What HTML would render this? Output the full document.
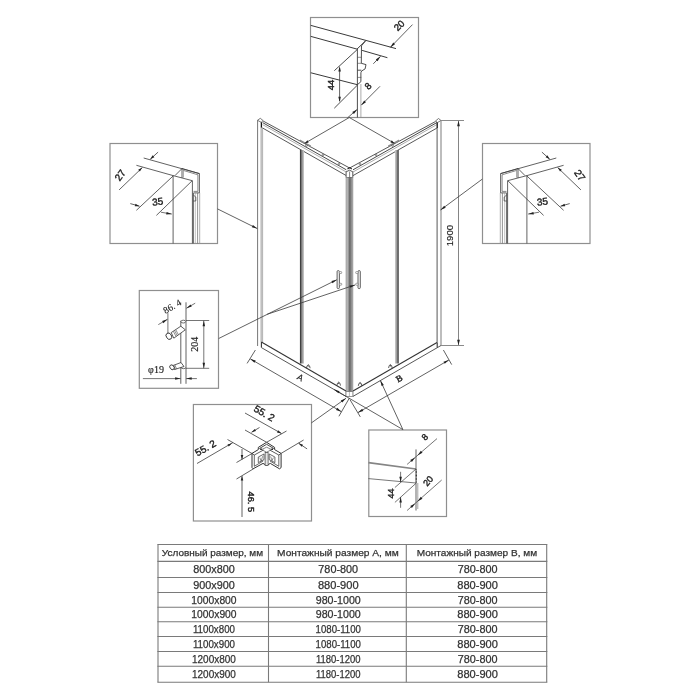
<!DOCTYPE html>
<html><head><meta charset="utf-8"><style>
html,body{margin:0;padding:0;background:#fff;width:700px;height:700px;overflow:hidden}
svg{display:block;will-change:transform}
</style></head><body>
<svg width="700" height="700" viewBox="0 0 700 700">
<defs>
<linearGradient id="gl" x1="0" x2="1" y1="0" y2="0"><stop offset="0" stop-color="#c9c9c9"/><stop offset="1" stop-color="#b4b4b4"/></linearGradient>
<linearGradient id="gc" x1="0" x2="1" y1="0" y2="0"><stop offset="0" stop-color="#cfcfcf"/><stop offset="0.3" stop-color="#a8a8a8"/><stop offset="0.5" stop-color="#6e6e6e"/><stop offset="0.7" stop-color="#7a7a7a"/><stop offset="1" stop-color="#c0c0c0"/></linearGradient>
<linearGradient id="gd" x1="0" x2="1" y1="0" y2="0"><stop offset="0" stop-color="#b0b0b0"/><stop offset="0.15" stop-color="#3c3c3c"/><stop offset="0.4" stop-color="#777"/><stop offset="0.7" stop-color="#a6a6a6"/><stop offset="1" stop-color="#cfcfcf"/></linearGradient>
<linearGradient id="gd2" x1="0" x2="1" y1="0" y2="0"><stop offset="0" stop-color="#cfcfcf"/><stop offset="0.35" stop-color="#a6a6a6"/><stop offset="0.6" stop-color="#777"/><stop offset="0.85" stop-color="#3c3c3c"/><stop offset="1" stop-color="#b0b0b0"/></linearGradient>
<clipPath id="c1"><rect x="310.5" y="17.5" width="108" height="100"/></clipPath></defs>
<rect width="700" height="700" fill="#fff"/>
<rect x="260.3" y="127.5" width="2.8" height="214.5" fill="url(#gl)"/>
<line x1="257.6" y1="120.3" x2="257.6" y2="346" stroke="#777" stroke-width="1.0"/>
<polyline points="257.5,120.3 260.3,118.3 263.1,120.6 261.2,122.3 257.5,120.3" stroke="#555" stroke-width="0.8" fill="none"/>
<line x1="261.4" y1="122.3" x2="261.4" y2="127.6" stroke="#111" stroke-width="1.3"/>
<line x1="263.1" y1="121" x2="349.6" y2="168" stroke="#444" stroke-width="0.9"/>
<line x1="262.6" y1="122.6" x2="346.3" y2="169.8" stroke="#333" stroke-width="0.9"/>
<line x1="262.6" y1="124.6" x2="346.3" y2="172.0" stroke="#777" stroke-width="0.6"/>
<line x1="262.6" y1="128.0" x2="346.3" y2="175.6" stroke="#444" stroke-width="0.9"/>
<line x1="349.6" y1="168" x2="435.5" y2="121.5" stroke="#444" stroke-width="0.9"/>
<line x1="353" y1="169.8" x2="437" y2="122.5" stroke="#333" stroke-width="0.9"/>
<line x1="353" y1="172.0" x2="437" y2="124.5" stroke="#777" stroke-width="0.6"/>
<line x1="353" y1="175.6" x2="437" y2="128" stroke="#444" stroke-width="0.9"/>
<polyline points="435.5,121 438.5,118.5 441,120.5 437.5,122.5 435.5,121" stroke="#555" stroke-width="0.8" fill="none"/>
<line x1="437.1" y1="128" x2="437.1" y2="342.5" stroke="#666" stroke-width="1.1"/>
<line x1="441" y1="120.5" x2="441" y2="345.5" stroke="#9a9a9a" stroke-width="1.3"/>
<line x1="437.2" y1="122.5" x2="437.2" y2="128" stroke="#111" stroke-width="1.3"/>
<polygon points="346.1,171.8 349.6,170.2 352.8,171.8 352.8,177.6 346.1,177.6" stroke="#444" stroke-width="0.9" fill="#fff"/>
<line x1="349.6" y1="171.5" x2="349.6" y2="177.6" stroke="#666" stroke-width="0.8"/>
<polyline points="347.5,168.9 349.7,167.6 351.8,168.9" stroke="#222" stroke-width="1.2" fill="none"/>
<rect x="346" y="177.6" width="6.9" height="214.1" fill="url(#gc)"/>
<line x1="346.1" y1="177.6" x2="346.1" y2="396.4" stroke="#888" stroke-width="0.7"/>
<line x1="352.8" y1="177.6" x2="352.8" y2="396.4" stroke="#888" stroke-width="0.7"/>
<rect x="346" y="391.7" width="6.9" height="4.7" stroke="#555" stroke-width="0.6" fill="#fff"/>
<line x1="349.4" y1="391.7" x2="349.4" y2="396.4" stroke="#777" stroke-width="0.5"/>
<rect x="299.8" y="150" width="4.2" height="213.5" fill="url(#gd)"/>
<rect x="395" y="150" width="3.9" height="213.5" fill="url(#gd2)"/>
<polygon points="300,139.5 311,145.6 311,147.6 300,141.5" stroke="none" stroke-width="0" fill="#8a8a8a"/>
<polygon points="399,139.5 388,145.6 388,147.6 399,141.5" stroke="none" stroke-width="0" fill="#8a8a8a"/>
<circle cx="306.5" cy="145.5" r="0.9" fill="none" stroke="#555" stroke-width="0.6"/>
<circle cx="323" cy="155" r="0.9" fill="none" stroke="#555" stroke-width="0.6"/>
<circle cx="339" cy="164" r="0.9" fill="none" stroke="#555" stroke-width="0.6"/>
<circle cx="360" cy="164" r="0.9" fill="none" stroke="#555" stroke-width="0.6"/>
<circle cx="376" cy="155" r="0.9" fill="none" stroke="#555" stroke-width="0.6"/>
<circle cx="392.5" cy="145.5" r="0.9" fill="none" stroke="#555" stroke-width="0.6"/>
<line x1="261.4" y1="342" x2="346" y2="390.9" stroke="#333" stroke-width="1.1"/>
<line x1="261.4" y1="342" x2="261.4" y2="347.6" stroke="#333" stroke-width="1.1"/>
<line x1="261.4" y1="347.6" x2="346" y2="396.4" stroke="#444" stroke-width="0.9"/>
<line x1="353" y1="390.9" x2="437" y2="342.5" stroke="#333" stroke-width="1.1"/>
<line x1="437.2" y1="342.5" x2="437.2" y2="347.5" stroke="#333" stroke-width="1.1"/>
<line x1="353" y1="396.4" x2="441" y2="345.5" stroke="#444" stroke-width="0.9"/>
<path d="M306.5,368.2 L307.1,365.8 Q308.3,363.59999999999997 309.5,365.8 L310.1,368.2" fill="none" stroke="#333" stroke-width="0.8"/>
<circle cx="308.3" cy="365.9" r="0.7" fill="#444"/>
<path d="M336.9,385.6 L337.5,383.20000000000005 Q338.7,381.0 339.9,383.20000000000005 L340.5,385.6" fill="none" stroke="#333" stroke-width="0.8"/>
<circle cx="338.7" cy="383.3" r="0.7" fill="#444"/>
<path d="M358.3,385.9 L358.90000000000003,383.5 Q360.1,381.29999999999995 361.3,383.5 L361.90000000000003,385.9" fill="none" stroke="#333" stroke-width="0.8"/>
<circle cx="360.1" cy="383.59999999999997" r="0.7" fill="#444"/>
<path d="M388.59999999999997,368 L389.2,365.6 Q390.4,363.4 391.59999999999997,365.6 L392.2,368" fill="none" stroke="#333" stroke-width="0.8"/>
<circle cx="390.4" cy="365.7" r="0.7" fill="#444"/>
<rect x="337.1" y="270.6" width="2.3" height="18" rx="1" fill="#f2f2f2" stroke="#444" stroke-width="0.85"/>
<rect x="339.3" y="271.6" width="2.4" height="1.9" rx="0.6" fill="#fff" stroke="#666" stroke-width="0.6"/>
<rect x="339.3" y="283.3" width="2.4" height="1.9" rx="0.6" fill="#fff" stroke="#666" stroke-width="0.6"/>
<rect x="358.0" y="270.6" width="2.3" height="18" rx="1" fill="#f2f2f2" stroke="#444" stroke-width="0.85"/>
<rect x="355.7" y="271.6" width="2.4" height="1.9" rx="0.6" fill="#fff" stroke="#666" stroke-width="0.6"/>
<rect x="355.7" y="283.3" width="2.4" height="1.9" rx="0.6" fill="#fff" stroke="#666" stroke-width="0.6"/>
<line x1="441" y1="120.5" x2="464" y2="120.5" stroke="#8a8a8a" stroke-width="1.0"/>
<line x1="441" y1="345.5" x2="464" y2="345.5" stroke="#8a8a8a" stroke-width="1.0"/>
<line x1="458.5" y1="121" x2="458.5" y2="345" stroke="#777" stroke-width="0.9"/>
<polygon points="458.5,120.7 459.90,126.20 457.10,126.20" fill="#222"/>
<polygon points="458.5,345.3 457.10,339.80 459.90,339.80" fill="#222"/>
<text x="449.7" y="235.6" font-family="Liberation Sans" font-size="9.6" fill="#222" stroke="#222" stroke-width="0.15" text-anchor="middle" dominant-baseline="central" transform="rotate(-90 449.7 235.6)" >1900</text>
<line x1="255.4" y1="350" x2="247.1" y2="363.4" stroke="#3a3a3a" stroke-width="0.8"/>
<line x1="349.4" y1="398" x2="338.9" y2="416.3" stroke="#3a3a3a" stroke-width="0.8"/>
<line x1="250.3" y1="358.9" x2="341.4" y2="411.7" stroke="#3a3a3a" stroke-width="0.8"/>
<polygon points="250.3,358.9 255.69,360.57 254.43,362.74" fill="#222"/>
<polygon points="341.4,411.7 336.01,410.03 337.27,407.86" fill="#222"/>
<text x="300.3" y="377.6" font-family="Liberation Sans" font-size="8.8" fill="#222" stroke="#222" stroke-width="0.15" text-anchor="middle" dominant-baseline="central" transform="rotate(29 300.3 377.6)" >A</text>
<line x1="443.4" y1="350" x2="451.7" y2="364.6" stroke="#3a3a3a" stroke-width="0.8"/>
<line x1="350" y1="399.7" x2="360.3" y2="416.9" stroke="#3a3a3a" stroke-width="0.8"/>
<line x1="448.9" y1="360" x2="358" y2="412.6" stroke="#3a3a3a" stroke-width="0.8"/>
<polygon points="448.9,360 444.77,363.84 443.51,361.67" fill="#222"/>
<polygon points="358,412.6 362.13,408.76 363.39,410.93" fill="#222"/>
<text x="399.2" y="378.4" font-family="Liberation Serif" font-size="9" fill="#222" stroke="#222" stroke-width="0.45" text-anchor="middle" dominant-baseline="central" transform="rotate(-29 399.2 378.4)" >B</text>
<rect x="310.5" y="17.5" width="108" height="100" stroke="#8f8f8f" stroke-width="1.2" fill="none"/>
<g clip-path="url(#c1)">
<line x1="310.5" y1="25.3" x2="396" y2="48.6" stroke="#3a3a3a" stroke-width="1.0"/>
<line x1="310.5" y1="36.3" x2="357" y2="49.1" stroke="#3a3a3a" stroke-width="1.0"/>
<line x1="362.1" y1="50.4" x2="387.4" y2="57.7" stroke="#3a3a3a" stroke-width="1.0"/>
<line x1="310.5" y1="72.7" x2="357.4" y2="84.7" stroke="#3a3a3a" stroke-width="1.0"/>
<line x1="365.6" y1="40.8" x2="357" y2="49.1" stroke="#3a3a3a" stroke-width="1.0"/>
<polyline points="365.6,40.8 361.5,45.8 361.3,63.3 366,64.6 365.1,68.9 361.6,71 360.9,72.7 360.9,81.7 357.4,84.7" stroke="#3a3a3a" stroke-width="0.9" fill="none"/>
<line x1="361.3" y1="70.2" x2="357.4" y2="70.2" stroke="#3a3a3a" stroke-width="0.9"/>
<line x1="357.4" y1="49.1" x2="357.4" y2="118" stroke="#3a3a3a" stroke-width="0.9"/>
<line x1="360.9" y1="84" x2="360.9" y2="118" stroke="#888" stroke-width="0.7"/>
<line x1="357.5" y1="57.3" x2="361.3" y2="57.3" stroke="#444" stroke-width="0.6"/>
<line x1="357.5" y1="63.3" x2="361.3" y2="63.3" stroke="#444" stroke-width="0.6"/>
<line x1="357.5" y1="77.4" x2="361.3" y2="77.4" stroke="#444" stroke-width="0.6"/>
<line x1="357.5" y1="49.3" x2="334.3" y2="70.7" stroke="#3a3a3a" stroke-width="0.9"/>
<line x1="357.5" y1="85" x2="334.3" y2="108.2" stroke="#3a3a3a" stroke-width="0.9"/>
<line x1="339.6" y1="68" x2="339.6" y2="101" stroke="#3a3a3a" stroke-width="0.8"/>
<polygon points="339.6,66 340.85,71.50 338.35,71.50" fill="#222"/>
<polygon points="339.6,102.3 338.35,96.80 340.85,96.80" fill="#222"/>
<text x="330" y="85" font-family="Liberation Sans" font-size="9.5" fill="#222" stroke="#222" stroke-width="0.4" text-anchor="middle" dominant-baseline="central" transform="rotate(-90 330 85)" >44</text>
<line x1="412.5" y1="24.6" x2="390.3" y2="47.4" stroke="#3a3a3a" stroke-width="0.8"/>
<polygon points="390.3,47.4 393.24,42.59 395.03,44.33" fill="#222"/>
<line x1="373.3" y1="63.8" x2="380.5" y2="56.3" stroke="#3a3a3a" stroke-width="0.8"/>
<polygon points="380.5,56.3 377.59,61.13 375.79,59.40" fill="#222"/>
<text x="399" y="25.4" font-family="Liberation Sans" font-size="9.5" fill="#222" stroke="#222" stroke-width="0.4" text-anchor="middle" dominant-baseline="central" transform="rotate(-45 399 25.4)" >20</text>
<line x1="380" y1="86.3" x2="361.2" y2="105.2" stroke="#3a3a3a" stroke-width="0.8"/>
<polygon points="361.2,105.2 364.19,100.42 365.96,102.18" fill="#222"/>
<line x1="346.3" y1="118.9" x2="357.2" y2="109.4" stroke="#3a3a3a" stroke-width="0.8"/>
<polygon points="357.2,109.4 353.88,113.96 352.23,112.07" fill="#222"/>
<text x="368" y="86" font-family="Liberation Sans" font-size="9.5" fill="#222" stroke="#222" stroke-width="0.4" text-anchor="middle" dominant-baseline="central" transform="rotate(-45 368 86)" >8</text>
</g>
<line x1="349.3" y1="117.5" x2="304.6" y2="143.4" stroke="#3a3a3a" stroke-width="0.8"/>
<line x1="349.3" y1="117.5" x2="394.6" y2="143.4" stroke="#3a3a3a" stroke-width="0.8"/>
<polygon points="304.6,143.4 307.46,140.36 308.66,142.43" fill="#222"/>
<polygon points="394.6,143.4 390.53,142.46 391.72,140.37" fill="#222"/>
<rect x="110" y="143.5" width="107.5" height="100" stroke="#8f8f8f" stroke-width="1.2" fill="none"/>
<line x1="143.7" y1="158" x2="199.4" y2="173.6" stroke="#3a3a3a" stroke-width="0.8"/>
<line x1="136.4" y1="165.3" x2="173.1" y2="175.6" stroke="#3a3a3a" stroke-width="0.8"/>
<line x1="119.1" y1="189.9" x2="142.3" y2="167.6" stroke="#3a3a3a" stroke-width="0.8"/>
<polygon points="142.3,167.6 139.92,171.62 138.19,169.82" fill="#222"/>
<line x1="158.1" y1="152.1" x2="150.2" y2="159.3" stroke="#3a3a3a" stroke-width="0.8"/>
<polygon points="150.2,159.3 152.68,155.34 154.37,157.19" fill="#222"/>
<line x1="173.1" y1="175.6" x2="173.1" y2="243.4" stroke="#3a3a3a" stroke-width="0.8"/>
<line x1="173.1" y1="175.6" x2="192.4" y2="180.7" stroke="#3a3a3a" stroke-width="0.8"/>
<line x1="192.4" y1="180.7" x2="192.4" y2="243.4" stroke="#3a3a3a" stroke-width="0.8"/>
<polyline points="175,175.6 182,168.5 199.4,173.6 199.4,192.9 193.5,192.9" stroke="#3a3a3a" stroke-width="0.8" fill="none"/>
<line x1="182" y1="168.5" x2="182" y2="178" stroke="#3a3a3a" stroke-width="0.8"/>
<line x1="193.3" y1="192.9" x2="193.3" y2="243.4" stroke="#444" stroke-width="0.9"/>
<line x1="195.3" y1="192.9" x2="195.3" y2="243.4" stroke="#999" stroke-width="0.6"/>
<line x1="197.6" y1="192.9" x2="197.6" y2="243.4" stroke="#666" stroke-width="0.7"/>
<line x1="199.7" y1="192.9" x2="199.7" y2="243.4" stroke="#999" stroke-width="0.8"/>
<polyline points="183.3,170.4 197.9,174.8 197.9,191.4 193.5,191.4" stroke="#555" stroke-width="0.7" fill="none"/>
<line x1="183.4" y1="170.4" x2="183.4" y2="177.6" stroke="#666" stroke-width="0.6"/>
<polyline points="193.3,195 195.8,197 195.8,201 193.3,201" stroke="#3a3a3a" stroke-width="0.7" fill="none"/>
<line x1="136.4" y1="210.3" x2="173.3" y2="175.8" stroke="#3a3a3a" stroke-width="0.8"/>
<line x1="156.4" y1="215.4" x2="192.2" y2="180.7" stroke="#3a3a3a" stroke-width="0.8"/>
<line x1="130.3" y1="203.6" x2="139.5" y2="206.2" stroke="#3a3a3a" stroke-width="0.8"/>
<polygon points="139.5,206.2 134.83,206.18 135.51,203.77" fill="#222"/>
<line x1="160.9" y1="212.2" x2="171.8" y2="214.1" stroke="#3a3a3a" stroke-width="0.7"/>
<polygon points="171.8,214.1 166.17,214.39 166.60,211.92" fill="#222"/>
<rect x="482.5" y="143.5" width="107.5" height="100" stroke="#8f8f8f" stroke-width="1.2" fill="none"/>
<line x1="556.3" y1="158" x2="500.6" y2="173.6" stroke="#3a3a3a" stroke-width="0.8"/>
<line x1="563.6" y1="165.3" x2="526.9" y2="175.6" stroke="#3a3a3a" stroke-width="0.8"/>
<line x1="580.9" y1="189.9" x2="557.7" y2="167.6" stroke="#3a3a3a" stroke-width="0.8"/>
<polygon points="557.7,167.6 561.81,169.82 560.08,171.62" fill="#222"/>
<line x1="541.9" y1="152.1" x2="549.8" y2="159.3" stroke="#3a3a3a" stroke-width="0.8"/>
<polygon points="549.8,159.3 545.63,157.19 547.32,155.34" fill="#222"/>
<line x1="526.9" y1="175.6" x2="526.9" y2="243.4" stroke="#3a3a3a" stroke-width="0.8"/>
<line x1="526.9" y1="175.6" x2="507.6" y2="180.7" stroke="#3a3a3a" stroke-width="0.8"/>
<line x1="507.6" y1="180.7" x2="507.6" y2="243.4" stroke="#3a3a3a" stroke-width="0.8"/>
<polyline points="525,175.6 518,168.5 500.6,173.6 500.6,192.9 506.5,192.9" stroke="#3a3a3a" stroke-width="0.8" fill="none"/>
<line x1="518" y1="168.5" x2="518" y2="178" stroke="#3a3a3a" stroke-width="0.8"/>
<line x1="506.7" y1="192.9" x2="506.7" y2="243.4" stroke="#444" stroke-width="0.9"/>
<line x1="504.7" y1="192.9" x2="504.7" y2="243.4" stroke="#999" stroke-width="0.6"/>
<line x1="502.4" y1="192.9" x2="502.4" y2="243.4" stroke="#666" stroke-width="0.7"/>
<line x1="500.3" y1="192.9" x2="500.3" y2="243.4" stroke="#999" stroke-width="0.8"/>
<polyline points="516.7,170.4 502.1,174.8 502.1,191.4 506.5,191.4" stroke="#555" stroke-width="0.7" fill="none"/>
<line x1="516.6" y1="170.4" x2="516.6" y2="177.6" stroke="#666" stroke-width="0.6"/>
<polyline points="506.7,195 504.2,197 504.2,201 506.7,201" stroke="#3a3a3a" stroke-width="0.7" fill="none"/>
<line x1="563.6" y1="210.3" x2="526.7" y2="175.8" stroke="#3a3a3a" stroke-width="0.8"/>
<line x1="543.6" y1="215.4" x2="507.8" y2="180.7" stroke="#3a3a3a" stroke-width="0.8"/>
<line x1="569.7" y1="203.6" x2="560.5" y2="206.2" stroke="#3a3a3a" stroke-width="0.8"/>
<polygon points="560.5,206.2 564.49,203.77 565.17,206.18" fill="#222"/>
<line x1="539.1" y1="212.2" x2="528.2" y2="214.1" stroke="#3a3a3a" stroke-width="0.7"/>
<polygon points="528.2,214.1 533.40,211.92 533.83,214.39" fill="#222"/>
<text x="120.2" y="175.3" font-family="Liberation Sans" font-size="10" fill="#222" stroke="#222" stroke-width="0.4" text-anchor="middle" dominant-baseline="central" transform="rotate(-55 120.2 175.3)" >27</text>
<text x="579.8" y="175.3" font-family="Liberation Sans" font-size="10" fill="#222" stroke="#222" stroke-width="0.4" text-anchor="middle" dominant-baseline="central" transform="rotate(55 579.8 175.3)" >27</text>
<text x="157.7" y="201.6" font-family="Liberation Sans" font-size="10" fill="#222" stroke="#222" stroke-width="0.4" text-anchor="middle" dominant-baseline="central" transform="rotate(-6 157.7 201.6)" >35</text>
<text x="542.3" y="201.6" font-family="Liberation Sans" font-size="10" fill="#222" stroke="#222" stroke-width="0.4" text-anchor="middle" dominant-baseline="central" transform="rotate(-6 542.3 201.6)" >35</text>
<line x1="217.5" y1="208.9" x2="257.3" y2="228.6" stroke="#3a3a3a" stroke-width="0.8"/>
<polygon points="257.3,228.6 251.82,227.28 252.93,225.04" fill="#222"/>
<line x1="482.3" y1="179.1" x2="440.5" y2="210" stroke="#3a3a3a" stroke-width="0.8"/>
<polygon points="440.5,210 444.18,205.73 445.67,207.74" fill="#222"/>
<rect x="139.3" y="290.5" width="79.2" height="97.8" stroke="#8f8f8f" stroke-width="1.2" fill="none"/>
<line x1="180.8" y1="320.7" x2="180.8" y2="383.8" stroke="#3a3a3a" stroke-width="0.8"/>
<line x1="186" y1="302.3" x2="186" y2="383.8" stroke="#3a3a3a" stroke-width="0.8"/>
<text x="172.3" y="306.6" font-family="Liberation Serif" font-size="9.5" fill="#222" stroke="#222" stroke-width="0.12" text-anchor="middle" dominant-baseline="central" transform="rotate(-30 172.3 306.6)" >86. 4</text>
<line x1="158.3" y1="324.6" x2="167.5" y2="319.3" stroke="#3a3a3a" stroke-width="0.7"/>
<polygon points="167.5,319.3 163.36,323.13 162.11,320.96" fill="#222"/>
<line x1="195.2" y1="303.2" x2="186.4" y2="308.3" stroke="#3a3a3a" stroke-width="0.7"/>
<polygon points="186.4,308.3 190.53,304.46 191.79,306.62" fill="#222"/>
<line x1="167.9" y1="313.2" x2="167.9" y2="333" stroke="#3a3a3a" stroke-width="0.7"/>
<line x1="186" y1="320.5" x2="209.2" y2="320.5" stroke="#3a3a3a" stroke-width="0.7"/>
<line x1="186" y1="368.3" x2="209.2" y2="368.3" stroke="#3a3a3a" stroke-width="0.7"/>
<line x1="203.8" y1="320.7" x2="203.8" y2="368.3" stroke="#3a3a3a" stroke-width="0.7"/>
<polygon points="203.8,320.7 205.05,326.20 202.55,326.20" fill="#222"/>
<polygon points="203.8,368.3 202.55,362.80 205.05,362.80" fill="#222"/>
<text x="194.4" y="344.3" font-family="Liberation Serif" font-size="10" fill="#222" stroke="#222" stroke-width="0.15" text-anchor="middle" dominant-baseline="central" transform="rotate(-90 194.4 344.3)" >204</text>
<text x="156" y="369.3" font-family="Liberation Serif" font-size="10" fill="#222" stroke="#222" stroke-width="0.15" text-anchor="middle" dominant-baseline="central" transform="rotate(0 156 369.3)" >φ19</text>
<line x1="142.9" y1="378.6" x2="180.6" y2="378.6" stroke="#3a3a3a" stroke-width="0.7"/>
<polygon points="180.6,378.6 175.10,379.85 175.10,377.35" fill="#222"/>
<line x1="196.9" y1="378.6" x2="186.2" y2="378.6" stroke="#3a3a3a" stroke-width="0.7"/>
<polygon points="186.2,378.6 191.70,377.35 191.70,379.85" fill="#222"/>
<ellipse cx="183.3" cy="321.6" rx="2.3" ry="1.4" fill="#fff" stroke="#333" stroke-width="0.7"/>
<polygon points="180.8,326.2 171.2,332.6 173.8,338.2 185.3,329.8" stroke="#333" stroke-width="0.8" fill="#fff"/>
<line x1="173.4" y1="331.4" x2="176.0" y2="336.4" stroke="#444" stroke-width="0.6"/>
<line x1="174.6" y1="330.6" x2="177.2" y2="335.6" stroke="#444" stroke-width="0.6"/>
<line x1="175.8" y1="329.8" x2="178.4" y2="334.8" stroke="#444" stroke-width="0.6"/>
<ellipse cx="168.9" cy="336.2" rx="2.6" ry="3.4" transform="rotate(-35 168.9 336.2)" fill="#fff" stroke="#333" stroke-width="0.9"/>
<polygon points="181,362.5 172.3,365.8 174.3,369.6 184,366.5" stroke="#333" stroke-width="0.8" fill="#fff"/>
<line x1="173.6" y1="365.4" x2="175.4" y2="369.4" stroke="#444" stroke-width="0.6"/>
<line x1="174.8" y1="364.9" x2="176.60000000000002" y2="368.9" stroke="#444" stroke-width="0.6"/>
<ellipse cx="172" cy="367.3" rx="2" ry="2.6" transform="rotate(-40 172 367.3)" fill="#fff" stroke="#333" stroke-width="0.9"/>
<path d="M181,367.5 a2.6,1.6 0 0 0 5,0" fill="none" stroke="#333" stroke-width="0.7"/>
<line x1="218.7" y1="338.5" x2="336.9" y2="279.7" stroke="#3a3a3a" stroke-width="0.8"/>
<polygon points="336.9,279.7 332.53,283.27 331.42,281.03" fill="#222"/>
<line x1="267.1" y1="314.3" x2="355.2" y2="284.9" stroke="#3a3a3a" stroke-width="0.8"/>
<polygon points="355.2,284.9 350.38,287.83 349.59,285.46" fill="#222"/>
<rect x="193.4" y="404.5" width="118.1" height="116.5" stroke="#8f8f8f" stroke-width="1.2" fill="none"/>
<text x="264.3" y="413.2" font-family="Liberation Sans" font-size="10" fill="#222" stroke="#222" stroke-width="0.4" text-anchor="middle" dominant-baseline="central" transform="rotate(30 264.3 413.2)" >55. 2</text>
<text x="205.5" y="448" font-family="Liberation Sans" font-size="10" fill="#222" stroke="#222" stroke-width="0.4" text-anchor="middle" dominant-baseline="central" transform="rotate(-30 205.5 448)" >55. 2</text>
<line x1="245" y1="413" x2="281.5" y2="433.5" stroke="#3a3a3a" stroke-width="0.8"/>
<polygon points="281.5,433.5 276.96,432.39 278.19,430.21" fill="#222"/>
<line x1="245" y1="430" x2="266.6" y2="442.3" stroke="#3a3a3a" stroke-width="0.8"/>
<line x1="266.6" y1="442.3" x2="286.5" y2="431" stroke="#3a3a3a" stroke-width="0.8"/>
<line x1="251.5" y1="432.3" x2="259.5" y2="427.5" stroke="#3a3a3a" stroke-width="0.8"/>
<polygon points="251.5,432.3 254.72,428.91 256.00,431.06" fill="#222"/>
<line x1="197" y1="463.5" x2="233" y2="442.5" stroke="#3a3a3a" stroke-width="0.8"/>
<polygon points="232,443.2 228.73,446.54 227.48,444.38" fill="#222"/>
<line x1="227.5" y1="439.5" x2="252" y2="453.5" stroke="#3a3a3a" stroke-width="0.8"/>
<line x1="236.5" y1="462.5" x2="252" y2="453.5" stroke="#3a3a3a" stroke-width="0.8"/>
<line x1="236.5" y1="479" x2="253.5" y2="468.8" stroke="#3a3a3a" stroke-width="0.8"/>
<line x1="281.1" y1="453.4" x2="303.6" y2="440" stroke="#3a3a3a" stroke-width="0.8"/>
<line x1="307.1" y1="448.9" x2="298.6" y2="443.2" stroke="#3a3a3a" stroke-width="0.8"/>
<polygon points="298.6,443.2 303.03,444.67 301.64,446.74" fill="#222"/>
<line x1="242" y1="449" x2="242" y2="459.5" stroke="#3a3a3a" stroke-width="0.8"/>
<polygon points="242,459.5 240.75,455.00 243.25,455.00" fill="#222"/>
<line x1="242" y1="476" x2="242" y2="517" stroke="#3a3a3a" stroke-width="0.8"/>
<polygon points="242,476 243.25,480.50 240.75,480.50" fill="#222"/>
<text x="251" y="501.8" font-family="Liberation Sans" font-size="9.2" fill="#222" stroke="#222" stroke-width="0.4" text-anchor="middle" dominant-baseline="central" transform="rotate(90 251 501.8)" >46. 5</text>
<polygon points="252,453.4 258.3,449.6 258.3,447.4 266.6,442.3 274.6,447.4 274.6,449.6 281.1,453.4 281.1,467.6 279.5,468.8 270.3,463.4 266.6,465.4 263,463.4 253.1,468.8 252,467.6" stroke="#333" stroke-width="1.0" fill="#fff"/>
<polyline points="254.3,455 254.3,466.3 263.2,461" stroke="#444" stroke-width="0.8" fill="none"/>
<polyline points="278.8,455 278.8,466.3 270,461" stroke="#444" stroke-width="0.8" fill="none"/>
<polyline points="252,453.4 254.3,455 263.5,450" stroke="#333" stroke-width="0.8" fill="none"/>
<polyline points="281.1,453.4 278.8,455 269.7,450" stroke="#333" stroke-width="0.8" fill="none"/>
<polyline points="259.3,448.6 266.6,444.3 273.9,448.6" stroke="#333" stroke-width="0.9" fill="none"/>
<polyline points="261.5,449.6 266.6,447.2 271.7,449.6 266.6,452.2 261.5,449.6" stroke="#555" stroke-width="0.7" fill="none"/>
<circle cx="261" cy="449.2" r="0.9" fill="#222"/><circle cx="272.2" cy="449.2" r="0.9" fill="#222"/>
<rect x="265.1" y="452.4" width="3" height="13" fill="#e6e6e6" stroke="#444" stroke-width="0.7"/>
<polygon points="258.3,457 264,454 264,459.6 258.3,462.6" stroke="#444" stroke-width="0.8" fill="none"/>
<polygon points="269.2,454 274.9,457 274.9,462.6 269.2,459.6" stroke="#444" stroke-width="0.8" fill="none"/>
<polyline points="259.8,457.6 261.2,461.2 262.6,456.2" stroke="#444" stroke-width="0.6" fill="none"/>
<polyline points="270.6,456.4 272,460.6 273.4,457.6" stroke="#444" stroke-width="0.6" fill="none"/>
<line x1="311.4" y1="422.9" x2="346" y2="398.3" stroke="#3a3a3a" stroke-width="0.8"/>
<polygon points="346,398.3 342.24,402.51 340.79,400.47" fill="#222"/>
<rect x="368.8" y="430" width="77.7" height="86.5" stroke="#8f8f8f" stroke-width="1.2" fill="none"/>
<line x1="368.4" y1="462.6" x2="416" y2="469" stroke="#858585" stroke-width="1.7"/>
<line x1="368.4" y1="478.6" x2="416" y2="483" stroke="#555" stroke-width="0.8"/>
<line x1="416" y1="449.4" x2="416" y2="510.5" stroke="#555" stroke-width="0.9"/>
<line x1="417.8" y1="483" x2="417.8" y2="509" stroke="#999" stroke-width="0.9"/>
<line x1="416.3" y1="469.5" x2="416.3" y2="482.5" stroke="#333" stroke-width="1.3" stroke-dasharray="0.8 0.6"/>
<line x1="407.1" y1="464.4" x2="437" y2="438.6" stroke="#3a3a3a" stroke-width="0.7"/>
<polygon points="415.2,457.4 411.86,461.94 410.22,460.05" fill="#222"/>
<polygon points="417.5,455.4 420.85,450.86 422.48,452.76" fill="#222"/>
<text x="425" y="437" font-family="Liberation Sans" font-size="9" fill="#222" stroke="#222" stroke-width="0.4" text-anchor="middle" dominant-baseline="central" transform="rotate(-45 425 437)" >8</text>
<line x1="407.1" y1="510.5" x2="441.7" y2="480" stroke="#3a3a3a" stroke-width="0.7"/>
<polygon points="415.2,503.4 411.89,507.97 410.24,506.09" fill="#222"/>
<polygon points="417.5,501.4 420.79,496.82 422.45,498.69" fill="#222"/>
<text x="428.3" y="481" font-family="Liberation Sans" font-size="9" fill="#222" stroke="#222" stroke-width="0.4" text-anchor="middle" dominant-baseline="central" transform="rotate(-50 428.3 481)" >20</text>
<line x1="415.9" y1="469.1" x2="394.9" y2="487.5" stroke="#3a3a3a" stroke-width="0.7"/>
<line x1="415.9" y1="483.4" x2="394.9" y2="502.4" stroke="#3a3a3a" stroke-width="0.7"/>
<line x1="400.6" y1="471.8" x2="400.6" y2="482" stroke="#3a3a3a" stroke-width="0.7"/>
<polygon points="400.6,482.2 399.35,476.70 401.85,476.70" fill="#222"/>
<line x1="400.6" y1="497" x2="400.6" y2="507.8" stroke="#3a3a3a" stroke-width="0.7"/>
<polygon points="400.6,497 401.85,502.50 399.35,502.50" fill="#222"/>
<text x="390.8" y="493.6" font-family="Liberation Sans" font-size="9" fill="#222" stroke="#222" stroke-width="0.4" text-anchor="middle" dominant-baseline="central" transform="rotate(-90 390.8 493.6)" >44</text>
<line x1="402.9" y1="429.6" x2="380.4" y2="380.6" stroke="#3a3a3a" stroke-width="0.8"/>
<polygon points="380.4,380.6 383.83,385.08 381.56,386.12" fill="#222"/>
<line x1="402.9" y1="429.6" x2="334.2" y2="389.5" stroke="#3a3a3a" stroke-width="0.8"/>
<polygon points="334.2,389.5 339.58,391.19 338.32,393.35" fill="#222"/>
<line x1="157.4" y1="544.5" x2="547.3000000000001" y2="544.5" stroke="#7a7a7a" stroke-width="1.1"/>
<line x1="157.4" y1="561.4" x2="547.3000000000001" y2="561.4" stroke="#7a7a7a" stroke-width="1.1"/>
<line x1="157.4" y1="577.5" x2="547.3000000000001" y2="577.5" stroke="#7a7a7a" stroke-width="1.1"/>
<line x1="157.4" y1="592.5" x2="547.3000000000001" y2="592.5" stroke="#7a7a7a" stroke-width="1.1"/>
<line x1="157.4" y1="607.3" x2="547.3000000000001" y2="607.3" stroke="#7a7a7a" stroke-width="1.1"/>
<line x1="157.4" y1="621.7" x2="547.3000000000001" y2="621.7" stroke="#7a7a7a" stroke-width="1.1"/>
<line x1="157.4" y1="636.5" x2="547.3000000000001" y2="636.5" stroke="#7a7a7a" stroke-width="1.1"/>
<line x1="157.4" y1="651.5" x2="547.3000000000001" y2="651.5" stroke="#7a7a7a" stroke-width="1.1"/>
<line x1="157.4" y1="666.2" x2="547.3000000000001" y2="666.2" stroke="#7a7a7a" stroke-width="1.1"/>
<line x1="157.4" y1="682.2" x2="547.3000000000001" y2="682.2" stroke="#7a7a7a" stroke-width="1.1"/>
<line x1="158" y1="544.5" x2="158" y2="682.2" stroke="#7a7a7a" stroke-width="1.1"/>
<line x1="268.5" y1="544.5" x2="268.5" y2="682.2" stroke="#7a7a7a" stroke-width="1.1"/>
<line x1="406.3" y1="544.5" x2="406.3" y2="682.2" stroke="#7a7a7a" stroke-width="1.1"/>
<line x1="546.7" y1="544.5" x2="546.7" y2="682.2" stroke="#7a7a7a" stroke-width="1.1"/>
<text x="212.45" y="556.2" font-family="Liberation Sans" font-size="9.7" fill="#333" stroke="#333" stroke-width="0.25" text-anchor="middle" textLength="101.3" lengthAdjust="spacingAndGlyphs">Условный размер, мм</text>
<text x="337.9" y="556.2" font-family="Liberation Sans" font-size="9.7" fill="#333" stroke="#333" stroke-width="0.25" text-anchor="middle" textLength="121.6" lengthAdjust="spacingAndGlyphs">Монтажный размер А, мм</text>
<text x="476.9" y="556.2" font-family="Liberation Sans" font-size="9.7" fill="#333" stroke="#333" stroke-width="0.25" text-anchor="middle" textLength="120.4" lengthAdjust="spacingAndGlyphs">Монтажный размер B, мм</text>
<text x="213.95" y="573.15" font-family="Liberation Sans" font-size="10.5" fill="#333" stroke="#333" stroke-width="0.25" text-anchor="middle" textLength="41.6" lengthAdjust="spacingAndGlyphs">800x800</text>
<text x="338.25" y="573.15" font-family="Liberation Sans" font-size="10.5" fill="#333" stroke="#333" stroke-width="0.25" text-anchor="middle" textLength="39.8" lengthAdjust="spacingAndGlyphs">780-800</text>
<text x="477.6" y="573.15" font-family="Liberation Sans" font-size="10.5" fill="#333" stroke="#333" stroke-width="0.25" text-anchor="middle" textLength="39.8" lengthAdjust="spacingAndGlyphs">780-800</text>
<text x="213.95" y="588.7" font-family="Liberation Sans" font-size="10.5" fill="#333" stroke="#333" stroke-width="0.25" text-anchor="middle" textLength="41.6" lengthAdjust="spacingAndGlyphs">900x900</text>
<text x="338.25" y="588.7" font-family="Liberation Sans" font-size="10.5" fill="#333" stroke="#333" stroke-width="0.25" text-anchor="middle" textLength="40.7" lengthAdjust="spacingAndGlyphs">880-900</text>
<text x="477.6" y="588.7" font-family="Liberation Sans" font-size="10.5" fill="#333" stroke="#333" stroke-width="0.25" text-anchor="middle" textLength="40.7" lengthAdjust="spacingAndGlyphs">880-900</text>
<text x="213.95" y="603.6" font-family="Liberation Sans" font-size="10.5" fill="#333" stroke="#333" stroke-width="0.25" text-anchor="middle" textLength="45.3" lengthAdjust="spacingAndGlyphs">1000x800</text>
<text x="338.25" y="603.6" font-family="Liberation Sans" font-size="10.5" fill="#333" stroke="#333" stroke-width="0.25" text-anchor="middle" textLength="45" lengthAdjust="spacingAndGlyphs">980-1000</text>
<text x="477.6" y="603.6" font-family="Liberation Sans" font-size="10.5" fill="#333" stroke="#333" stroke-width="0.25" text-anchor="middle" textLength="39.8" lengthAdjust="spacingAndGlyphs">780-800</text>
<text x="213.95" y="618.2" font-family="Liberation Sans" font-size="10.5" fill="#333" stroke="#333" stroke-width="0.25" text-anchor="middle" textLength="45.3" lengthAdjust="spacingAndGlyphs">1000x900</text>
<text x="338.25" y="618.2" font-family="Liberation Sans" font-size="10.5" fill="#333" stroke="#333" stroke-width="0.25" text-anchor="middle" textLength="45" lengthAdjust="spacingAndGlyphs">980-1000</text>
<text x="477.6" y="618.2" font-family="Liberation Sans" font-size="10.5" fill="#333" stroke="#333" stroke-width="0.25" text-anchor="middle" textLength="40.7" lengthAdjust="spacingAndGlyphs">880-900</text>
<text x="213.95" y="632.8" font-family="Liberation Sans" font-size="10.5" fill="#333" stroke="#333" stroke-width="0.25" text-anchor="middle" textLength="42.1" lengthAdjust="spacingAndGlyphs">1100x800</text>
<text x="338.25" y="632.8" font-family="Liberation Sans" font-size="10.5" fill="#333" stroke="#333" stroke-width="0.25" text-anchor="middle" textLength="45.3" lengthAdjust="spacingAndGlyphs">1080-1100</text>
<text x="477.6" y="632.8" font-family="Liberation Sans" font-size="10.5" fill="#333" stroke="#333" stroke-width="0.25" text-anchor="middle" textLength="39.8" lengthAdjust="spacingAndGlyphs">780-800</text>
<text x="213.95" y="647.7" font-family="Liberation Sans" font-size="10.5" fill="#333" stroke="#333" stroke-width="0.25" text-anchor="middle" textLength="42.1" lengthAdjust="spacingAndGlyphs">1100x900</text>
<text x="338.25" y="647.7" font-family="Liberation Sans" font-size="10.5" fill="#333" stroke="#333" stroke-width="0.25" text-anchor="middle" textLength="45.3" lengthAdjust="spacingAndGlyphs">1080-1100</text>
<text x="477.6" y="647.7" font-family="Liberation Sans" font-size="10.5" fill="#333" stroke="#333" stroke-width="0.25" text-anchor="middle" textLength="40.7" lengthAdjust="spacingAndGlyphs">880-900</text>
<text x="213.95" y="662.55" font-family="Liberation Sans" font-size="10.5" fill="#333" stroke="#333" stroke-width="0.25" text-anchor="middle" textLength="43.9" lengthAdjust="spacingAndGlyphs">1200x800</text>
<text x="338.25" y="662.55" font-family="Liberation Sans" font-size="10.5" fill="#333" stroke="#333" stroke-width="0.25" text-anchor="middle" textLength="44.6" lengthAdjust="spacingAndGlyphs">1180-1200</text>
<text x="477.6" y="662.55" font-family="Liberation Sans" font-size="10.5" fill="#333" stroke="#333" stroke-width="0.25" text-anchor="middle" textLength="39.8" lengthAdjust="spacingAndGlyphs">780-800</text>
<text x="213.95" y="677.9" font-family="Liberation Sans" font-size="10.5" fill="#333" stroke="#333" stroke-width="0.25" text-anchor="middle" textLength="43.9" lengthAdjust="spacingAndGlyphs">1200x900</text>
<text x="338.25" y="677.9" font-family="Liberation Sans" font-size="10.5" fill="#333" stroke="#333" stroke-width="0.25" text-anchor="middle" textLength="44.6" lengthAdjust="spacingAndGlyphs">1180-1200</text>
<text x="477.6" y="677.9" font-family="Liberation Sans" font-size="10.5" fill="#333" stroke="#333" stroke-width="0.25" text-anchor="middle" textLength="40.7" lengthAdjust="spacingAndGlyphs">880-900</text>
</svg></body></html>
